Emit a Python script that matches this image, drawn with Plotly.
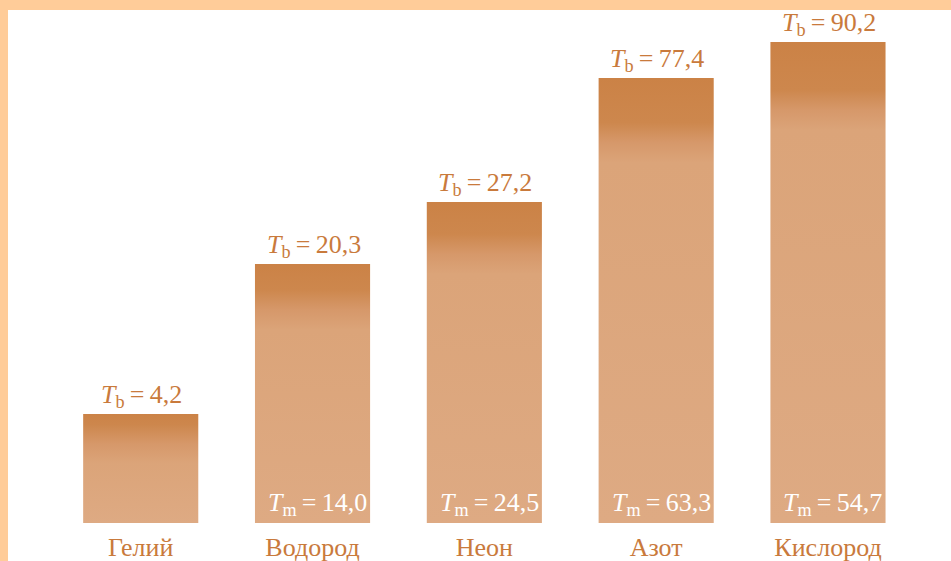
import plotly.graph_objects as go

# ---- data ----
elements = ["Гелий", "Водород", "Неон", "Азот", "Кислород"]
t_boil = [4.2, 20.3, 27.2, 77.4, 90.2]          # T_b labels
t_melt = [None, 14.0, 24.5, 63.3, 54.7]          # T_m labels
bar_height = [109, 259, 321, 445, 481]           # schematic bar heights (drawing units)

TEXT_ORANGE = "#C97A3C"
FONT = "Liberation Serif"
HALF_W = 0.335
THIN = "\u2009"


def fmt(v):
    return f"{v:.1f}".replace(".", ",")


fig = go.Figure()

for i, (name, h) in enumerate(zip(elements, bar_height)):
    fade = min(0.35, 40.0 / h)
    s_dark = 0.9
    s_light = max(0.0, s_dark - fade)
    cs = [
        [0.0, "#DEAA83"],
        [s_light, "#DBA479"],
        [s_light + (s_dark - s_light) * 0.5, "#D6986A"],
        [s_dark, "#CD874D"],
        [1.0, "#CB8246"],
    ]
    fig.add_trace(go.Scatter(
        x=[i - HALF_W, i + HALF_W], y=[h, h],
        mode="lines", line=dict(width=0, color="#D9A075"),
        fill="tozeroy",
        fillgradient=dict(type="vertical", colorscale=cs),
        name=name, showlegend=False, hoverinfo="skip",
    ))
    fig.add_annotation(
        x=i, y=h, xref="x", yref="y",
        text=f"<i>T</i><sub>b</sub>{THIN}={THIN}{fmt(t_boil[i])}",
        showarrow=False, yanchor="bottom", yshift=0, xshift=1,
        font=dict(family=FONT, size=26, color=TEXT_ORANGE),
    )
    if t_melt[i] is not None:
        fig.add_annotation(
            x=i, y=0, xref="x", yref="y",
            text=f"<i>T</i><sub>m</sub>{THIN}={THIN}{fmt(t_melt[i])}",
            showarrow=False, yanchor="bottom", yshift=1, xshift=5,
            font=dict(family=FONT, size=26, color="white"),
        )

# peach frame on left and top
FRAME = "#FFCC99"
fig.add_shape(type="rect", xref="paper", yref="paper",
              x0=0, x1=8 / 951, y0=-0.1, y1=1.05,
              fillcolor=FRAME, line=dict(width=0), layer="above")
fig.add_shape(type="rect", xref="paper", yref="paper",
              x0=0, x1=1, y0=1.0, y1=1.05,
              fillcolor=FRAME, line=dict(width=0), layer="above")

fig.update_layout(
    width=951, height=561,
    margin=dict(l=0, r=0, t=10, b=38),
    paper_bgcolor="white", plot_bgcolor="white",
    xaxis=dict(
        range=[-0.819, 4.716], tickmode="array",
        tickvals=list(range(len(elements))), ticktext=elements,
        showgrid=False, zeroline=False, showline=False, ticks="",
        tickfont=dict(family=FONT, size=26, color=TEXT_ORANGE),
        ticklabelstandoff=6, automargin=False, fixedrange=True,
    ),
    yaxis=dict(
        range=[0, 513], visible=False, showgrid=False, zeroline=False,
        automargin=False, fixedrange=True,
    ),
)

fig.write_html(
    "out.html",
    config={"displayModeBar": False},
    post_script="document.body.style.margin='0';document.body.style.overflow='hidden';",
)
